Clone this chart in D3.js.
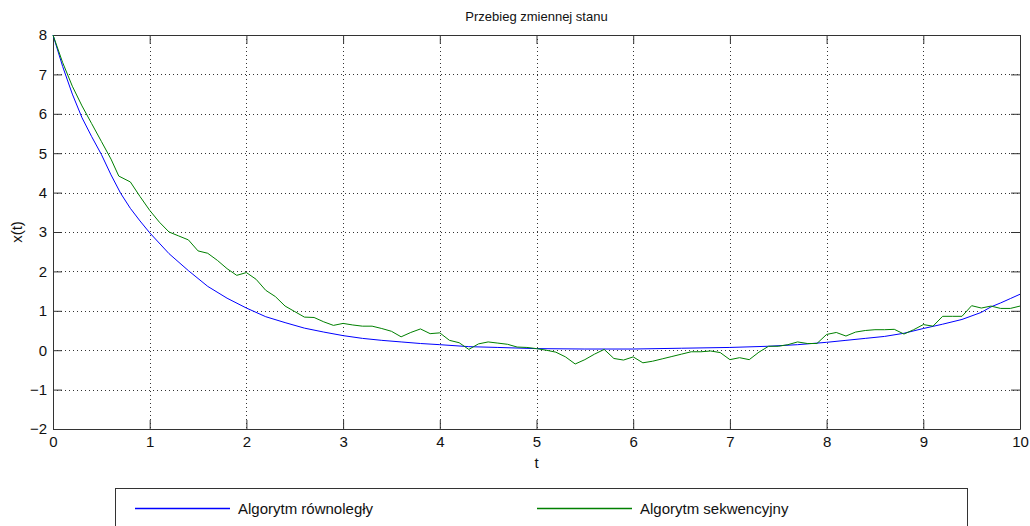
<!DOCTYPE html>
<html>
<head>
<meta charset="utf-8">
<script src="https://cdn.jsdelivr.net/npm/d3@7"></script>
<style>
  body { margin: 0; background: #fff; }
  svg { font-family: "Liberation Sans", Arial, sans-serif; }
</style>
</head>
<body>
<svg id="chart" width="1030" height="526"></svg>
<script>
// Data
var blueT = [0,0.1,0.2,0.3,0.4,0.5,0.6,0.7,0.8,0.9,1.0,1.2,1.4,1.6,1.8,2.0,2.2,2.4,2.6,2.8,3.0,3.2,3.4,3.6,3.8,4.0,4.3,4.6,5.0,5.5,6.0,6.5,7.0,7.4,7.7,8.0,8.2,8.4,8.6,8.8,9.0,9.2,9.4,9.6,9.7,9.8,9.9,10];
var blueX = [8,7.2,6.5,5.9,5.42,4.97,4.45,3.98,3.6,3.28,2.98,2.45,2.02,1.62,1.32,1.07,0.85,0.7,0.56,0.46,0.37,0.3,0.25,0.21,0.17,0.14,0.09,0.07,0.04,0.03,0.03,0.05,0.07,0.1,0.14,0.2,0.25,0.3,0.35,0.43,0.55,0.66,0.78,0.96,1.1,1.2,1.31,1.42];

var greenT = [0,0.1,0.2,0.3,0.4,0.5,0.6,0.68,0.8,0.9,1.0,1.1,1.2,1.3,1.4,1.5,1.6,1.7,1.8,1.9,2.0,2.1,2.2,2.3,2.4,2.5,2.6,2.7,2.8,2.9,3.0,3.1,3.2,3.3,3.4,3.5,3.6,3.7,3.8,3.9,4.0,4.1,4.2,4.3,4.4,4.5,4.6,4.7,4.8,4.9,5.0,5.1,5.2,5.3,5.4,5.5,5.6,5.7,5.8,5.9,6.0,6.1,6.2,6.3,6.4,6.5,6.6,6.7,6.8,6.9,7.0,7.1,7.2,7.3,7.4,7.5,7.6,7.7,7.8,7.9,8.0,8.1,8.2,8.3,8.4,8.5,8.6,8.7,8.8,8.9,9.0,9.1,9.2,9.3,9.4,9.5,9.6,9.7,9.8,9.9,10];
var greenX = [8.0,7.3,6.7,6.2,5.75,5.3,4.85,4.42,4.27,3.9,3.55,3.25,3.0,2.9,2.8,2.52,2.46,2.28,2.07,1.9,1.97,1.8,1.52,1.36,1.12,0.98,0.84,0.83,0.72,0.63,0.68,0.64,0.61,0.61,0.55,0.48,0.34,0.45,0.54,0.42,0.44,0.25,0.19,0.02,0.16,0.21,0.18,0.15,0.08,0.07,0.04,0.0,-0.05,-0.17,-0.35,-0.24,-0.1,0.02,-0.21,-0.25,-0.17,-0.32,-0.28,-0.22,-0.16,-0.1,-0.04,-0.04,-0.02,-0.06,-0.24,-0.19,-0.24,-0.05,0.1,0.1,0.14,0.21,0.17,0.17,0.4,0.45,0.36,0.46,0.5,0.52,0.52,0.53,0.41,0.52,0.65,0.61,0.86,0.86,0.86,1.13,1.07,1.12,1.06,1.06,1.12];

var xTicks = [0,1,2,3,4,5,6,7,8,9,10];
var yTicks = [-2,-1,0,1,2,3,4,5,6,7,8];
var seriesNames = ["Algorytm równoległy", "Algorytm sekwencyjny"];
var seriesColors = ["#0000ff", "#008000"];

var svg = d3.select("#chart");
var pLeft = 53, pRight = 1020, pTop = 35, pBottom = 429;
var fontFam = "Liberation Sans, Arial, sans-serif";

var x = d3.scaleLinear().domain([0, 10]).range([pLeft, pRight]);
var y = d3.scaleLinear().domain([-2, 8]).range([pBottom, pTop]);

// grid
var grid = svg.append("g").attr("stroke", "#333").attr("stroke-dasharray", "1,3").attr("stroke-width", 1);
xTicks.slice(1, -1).forEach(function(t) {
  grid.append("line").attr("x1", Math.round(x(t)) + 0.5).attr("x2", Math.round(x(t)) + 0.5)
    .attr("y1", pTop).attr("y2", pBottom);
});
yTicks.slice(1, -1).forEach(function(t) {
  grid.append("line").attr("y1", Math.round(y(t)) + 0.5).attr("y2", Math.round(y(t)) + 0.5)
    .attr("x1", pLeft).attr("x2", pRight);
});

// axes (box with inward ticks on all sides)
svg.append("g").attr("transform", "translate(0," + pBottom + ")")
  .call(d3.axisBottom(x).tickValues(xTicks).tickSizeInner(-9).tickSizeOuter(0).tickPadding(7));
svg.append("g").attr("transform", "translate(0," + pTop + ")")
  .call(d3.axisTop(x).tickValues(xTicks).tickSizeInner(-9).tickSizeOuter(0).tickFormat(""));
svg.append("g").attr("transform", "translate(" + pLeft + ",0)")
  .call(d3.axisLeft(y).tickValues(yTicks).tickSizeInner(-9).tickSizeOuter(0).tickPadding(6));
svg.append("g").attr("transform", "translate(" + pRight + ",0)")
  .call(d3.axisRight(y).tickValues(yTicks).tickSizeInner(-9).tickSizeOuter(0).tickFormat(""));

svg.selectAll(".domain, .tick line").attr("stroke", "#333");
svg.selectAll(".tick text").attr("font-size", 15).attr("fill", "#111")
  .attr("font-family", fontFam);

// lines
var line = d3.line().x(function(d) { return x(d[0]); }).y(function(d) { return y(d[1]); });
var blueData = blueT.map(function(t, i) { return [t, blueX[i]]; });
var greenData = greenT.map(function(t, i) { return [t, greenX[i]]; });

svg.append("path").datum(blueData).attr("d", line)
  .attr("fill", "none").attr("stroke", seriesColors[0]).attr("stroke-width", 1);
svg.append("path").datum(greenData).attr("d", line)
  .attr("fill", "none").attr("stroke", seriesColors[1]).attr("stroke-width", 1);

// labels
svg.append("text").attr("x", (pLeft + pRight) / 2).attr("y", 21).attr("text-anchor", "middle")
  .attr("font-size", 13).attr("fill", "#111").text("Przebieg zmiennej stanu");
svg.append("text").attr("x", (pLeft + pRight) / 2).attr("y", 468).attr("text-anchor", "middle")
  .attr("font-size", 15).attr("fill", "#111").text("t");
svg.append("text").attr("transform", "translate(22," + ((pTop + pBottom) / 2) + ") rotate(-90)")
  .attr("text-anchor", "middle").attr("font-size", 15).attr("fill", "#111").text("x(t)");

// legend
var lg = svg.append("g");
lg.append("rect").attr("x", 115.5).attr("y", 488.5).attr("width", 852).attr("height", 45)
  .attr("fill", "#fff").attr("stroke", "#333");
var legendX = [135, 537];
seriesNames.forEach(function(name, i) {
  lg.append("line").attr("x1", legendX[i]).attr("x2", legendX[i] + 95)
    .attr("y1", 508.5).attr("y2", 508.5).attr("stroke", seriesColors[i]).attr("stroke-width", 1.3);
  lg.append("text").attr("x", legendX[i] + 103).attr("y", 514).attr("font-size", 15)
    .attr("fill", "#111").text(name);
});
</script>
</body>
</html>
